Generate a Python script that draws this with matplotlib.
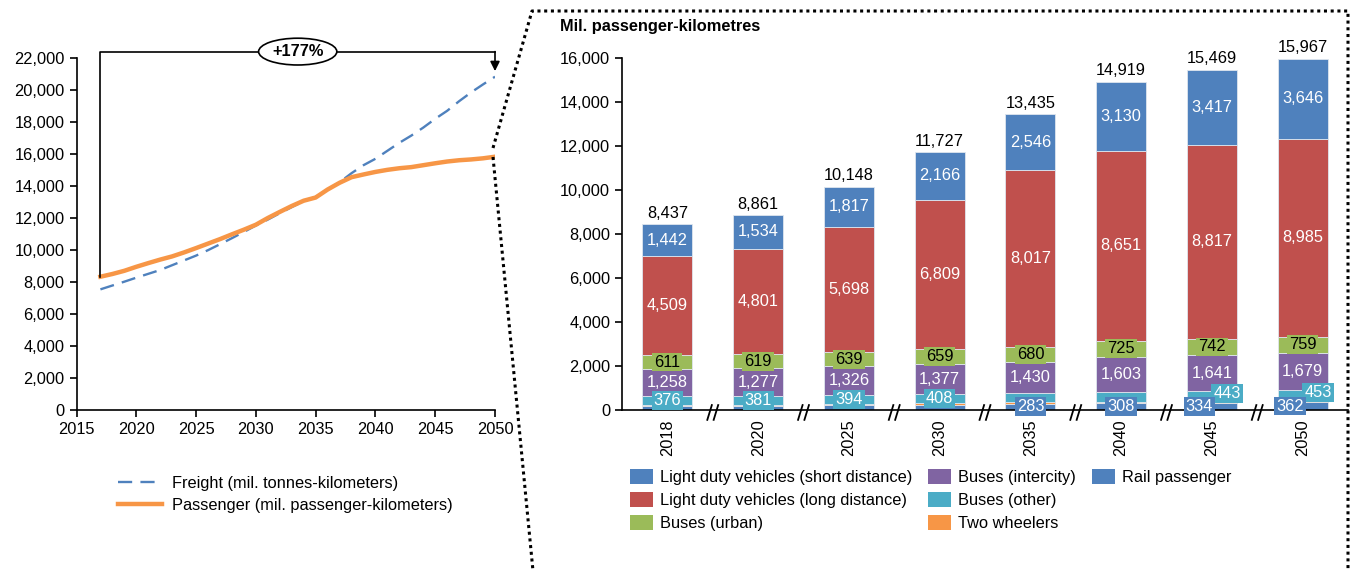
import numpy as np
import matplotlib
matplotlib.use('Agg')
import matplotlib.pyplot as plt
import matplotlib.transforms as mtransforms
from matplotlib.lines import Line2D
from matplotlib.patches import Patch
from matplotlib.ticker import FuncFormatter, MultipleLocator

plt.rcParams['font.family'] = ['Liberation Sans', 'DejaVu Sans']
FS = 11.8

# --- activity trends, yearly (left panel) ---
trend_years = list(range(2017, 2051))
freight = [7540, 7780, 8020, 8270, 8510, 8750, 9050, 9350, 9650, 9990,
           10360, 10740, 11130, 11530, 11900, 12300, 12680, 13050, 13320, 13760,
           14230, 14800, 15300, 15700, 16200, 16700, 17150, 17650, 18200, 18700,
           19300, 19850, 20350, 20830]
passenger = [8330, 8500, 8700, 8950, 9180, 9400, 9600, 9850, 10120, 10400,
             10680, 10980, 11270, 11580, 12000, 12380, 12750, 13080, 13280, 13780,
             14200, 14550, 14720, 14880, 15010, 15110, 15180, 15300, 15420, 15530,
             15610, 15660, 15730, 15830]
growth_label = "+177%"

# --- passenger-km by mode (right panel) ---
bar_years = ['2018', '2020', '2025', '2030', '2035', '2040', '2045', '2050']
rail = [190, 195, 215, 245, 283, 308, 334, 362]
two_wheelers = [51, 54, 59, 63, 64, 68, 75, 83]
buses_other = [376, 381, 394, 408, 415, 434, 443, 453]
buses_intercity = [1258, 1277, 1326, 1377, 1430, 1603, 1641, 1679]
buses_urban = [611, 619, 639, 659, 680, 725, 742, 759]
ldv_long = [4509, 4801, 5698, 6809, 8017, 8651, 8817, 8985]
ldv_short = [1442, 1534, 1817, 2166, 2546, 3130, 3417, 3646]

BLUE = '#4F81BD'
RED = '#C0504D'
GREEN = '#9BBB59'
PURPLE = '#8064A2'
TEAL = '#4BACC6'
ORANGE = '#F79646'

W, H = 1351, 571
fig = plt.figure(figsize=(W / 100, H / 100), dpi=100)


def fx(px):
    return px / W


def fy(py):
    return 1 - py / H


thousands = FuncFormatter(lambda v, p: f"{int(v):,}")

# ---------------- left: trend lines ----------------
ax1 = fig.add_axes([fx(76.5), fy(410), fx(495) - fx(76.5), fy(58) - fy(410)])
ax1.plot(trend_years, freight, color=BLUE, lw=1.7, dashes=(6, 3.5),
         label="Freight (mil. tonnes-kilometers)")
ax1.plot(trend_years, passenger, color=ORANGE, lw=3.2,
         label="Passenger (mil. passenger-kilometers)")
ax1.set_xlim(2015, 2050)
ax1.set_ylim(0, 22000)
ax1.xaxis.set_major_locator(MultipleLocator(5))
ax1.yaxis.set_major_locator(MultipleLocator(2000))
ax1.yaxis.set_major_formatter(thousands)
for s in ['top', 'right']:
    ax1.spines[s].set_visible(False)
for s in ['left', 'bottom']:
    ax1.spines[s].set_linewidth(1.2)
ax1.tick_params(labelsize=FS, length=5, width=1.2, direction='out', colors='black')

# growth bracket from first to last freight value
top = 22400
ax1.plot([trend_years[0], trend_years[0], trend_years[-1]],
         [passenger[0], top, top], color='black', lw=1.2, clip_on=False)
ax1.annotate('', xy=(trend_years[-1], freight[-1] + 350), xytext=(trend_years[-1], top),
             arrowprops=dict(arrowstyle='-|>', color='black', lw=1.2,
                             shrinkA=0, shrinkB=0, mutation_scale=14),
             annotation_clip=False)
ax1.text(2033.5, top, growth_label, fontsize=FS, fontweight='bold', ha='center', va='center',
         bbox=dict(boxstyle='ellipse,pad=0.12', fc='white', ec='black', lw=1.2), zorder=5)

ax1.legend(loc='upper left', bbox_to_anchor=(fx(118), fy(476)), bbox_transform=fig.transFigure,
           frameon=False, fontsize=FS, handlelength=2.7, handletextpad=0.6,
           labelspacing=0.4, borderpad=0, borderaxespad=0)

# ---------------- right: stacked bars ----------------
ax2 = fig.add_axes([fx(622), fy(410), fx(1348) - fx(622), fy(58) - fy(410)])
x = np.arange(len(bar_years))
bw = 0.55
stack = [
    (rail, BLUE, "Rail passenger"),
    (two_wheelers, ORANGE, "Two wheelers"),
    (buses_other, TEAL, "Buses (other)"),
    (buses_intercity, PURPLE, "Buses (intercity)"),
    (buses_urban, GREEN, "Buses (urban)"),
    (ldv_long, RED, "Light duty vehicles (long distance)"),
    (ldv_short, BLUE, "Light duty vehicles (short distance)"),
]
bottom = np.zeros(len(x))
bottoms = {}
for vals, col, name in stack:
    v = np.array(vals, dtype=float)
    ax2.bar(x, v, bw, bottom=bottom, color=col, edgecolor='#dfe6ee', linewidth=0.6, zorder=2)
    bottoms[name] = bottom.copy()
    bottom = bottom + v
totals = bottom

ax2.set_xlim(-0.5, 7.5)
ax2.set_ylim(0, 16000)
ax2.yaxis.set_major_locator(MultipleLocator(2000))
ax2.yaxis.set_major_formatter(thousands)
ax2.set_xticks(x)
ax2.set_xticklabels(bar_years, rotation=90)
for s in ['top', 'right']:
    ax2.spines[s].set_visible(False)
for s in ['left', 'bottom']:
    ax2.spines[s].set_linewidth(1.2)
ax2.tick_params(axis='y', labelsize=FS, length=5, width=1.2, direction='out')
ax2.tick_params(axis='x', labelsize=FS, length=0, pad=7)


def seg_label(i, name, vals, color, box=None, dx=0, dy=0):
    y = bottoms[name][i] + vals[i] / 2
    kw = {}
    if box is not None:
        kw['bbox'] = dict(boxstyle='square,pad=0.12', fc=box, ec='none')
    ax2.annotate(f"{vals[i]:,}", (x[i], y), xytext=(dx, dy), textcoords='offset points',
                 ha='center', va='center', fontsize=FS, color=color, zorder=6,
                 annotation_clip=False, **kw)


for i in range(len(x)):
    seg_label(i, "Light duty vehicles (short distance)", ldv_short, 'white')
    seg_label(i, "Light duty vehicles (long distance)", ldv_long, 'white')
    seg_label(i, "Buses (urban)", buses_urban, 'black', box=GREEN)
    seg_label(i, "Buses (intercity)", buses_intercity, 'white')
    if i < 4:
        seg_label(i, "Buses (other)", buses_other, 'white', box=TEAL)
    elif i >= 6:
        seg_label(i, "Buses (other)", buses_other, 'white', box=TEAL, dx=11, dy=2)
    if i >= 4:
        seg_label(i, "Rail passenger", rail, 'white', box=BLUE, dx=-9 if i >= 6 else 0)
    ax2.text(x[i], totals[i] + 150, f"{int(totals[i]):,}", ha='center', va='bottom',
             fontsize=FS, color='black')

# axis-break marks between the uneven year steps
trans = mtransforms.blended_transform_factory(ax2.transData, ax2.transAxes)
for b in x[:-1] + 0.5:
    for off in (-0.035, 0.035):
        ax2.plot([b + off - 0.025, b + off + 0.025], [-0.028, 0.014], transform=trans,
                 color='black', lw=1.3, clip_on=False, zorder=7)

fig.text(fx(560), fy(27), "Mil. passenger-kilometres", fontsize=FS, fontweight='bold',
         ha='left', va='center')

order = ["Light duty vehicles (short distance)", "Light duty vehicles (long distance)",
         "Buses (urban)", "Buses (intercity)", "Buses (other)", "Two wheelers",
         "Rail passenger"]
colors = {name: col for _, col, name in stack}
handles = [Patch(facecolor=colors[n], edgecolor='none') for n in order]
handles.append(Patch(facecolor='none', edgecolor='none'))
labels = order + [""]
ax2.legend(handles, labels, ncol=3, loc='upper left', bbox_to_anchor=(fx(630), fy(469)),
           bbox_transform=fig.transFigure, frameon=False, fontsize=FS,
           handlelength=1.4, handleheight=1.05, handletextpad=0.45, labelspacing=0.42,
           columnspacing=0.95, borderpad=0, borderaxespad=0)

# dotted zoom frame linking the two panels
dot = dict(color='black', lw=2.2, linestyle=(0, (1, 1.2)), transform=fig.transFigure)
fig.add_artist(Line2D([fx(493), fx(532), fx(1348), fx(1348)],
                      [fy(148), fy(11), fy(11), fy(571)], **dot))
fig.add_artist(Line2D([fx(493), fx(533)], [fy(157), fy(571)], **dot))

fig.savefig('out.png', dpi=100)
